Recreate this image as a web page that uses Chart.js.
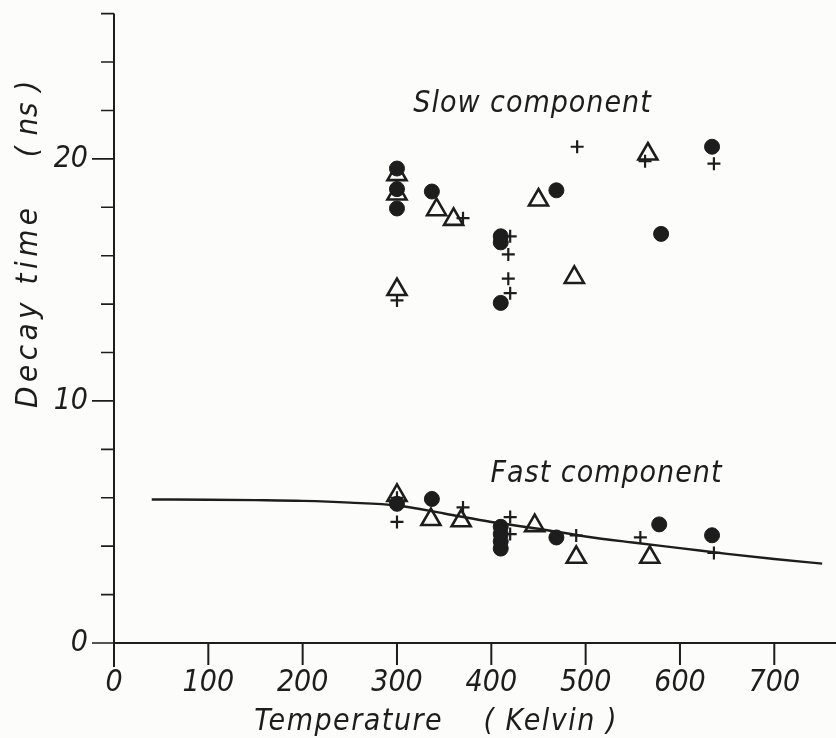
<!DOCTYPE html>
<html>
<head>
<meta charset="utf-8">
<title>Decay time vs temperature</title>
<script src="https://cdn.jsdelivr.net/npm/chart.js@4.4.1/dist/chart.umd.min.js"></script>
<style>
  html, body { margin: 0; padding: 0; background: #fcfcfa; }
  #wrap { width: 836px; height: 738px; }
</style>
</head>
<body>
<div id="wrap"><canvas id="chart" width="836" height="738"></canvas></div>
<script>
// [temperature K, decay time ns]
const slowCircles = [[300, 19.6], [300, 18.75], [300, 17.95], [337, 18.65], [410, 16.8], [410, 16.55],
  [410, 14.05], [469, 18.7], [580, 16.9], [634, 20.5]];
const slowTriangles = [[300, 19.35], [300, 18.55], [300, 14.6], [342, 17.9], [360, 17.5], [450, 18.3],
  [488, 15.1], [566, 20.2]];
const slowCrosses = [[300, 17.95], [300, 14.15], [370, 17.55], [420, 16.8], [418, 16.05], [418, 15.05],
  [420, 14.45], [491, 20.5], [563, 19.9], [636, 19.8]];

const fastCircles = [[300, 5.75], [337, 5.95], [410, 4.8], [410, 4.5], [410, 4.2], [410, 3.9],
  [469, 4.36], [578, 4.9], [634, 4.45]];
const fastTriangles = [[300, 6.1], [336, 5.1], [368, 5.05], [446, 4.85], [490, 3.54], [568, 3.54]];
const fastCrosses = [[300, 6.0], [300, 5.0], [370, 5.6], [420, 5.2], [420, 4.5], [490, 4.44],
  [558, 4.36], [636, 3.72]];

// fitted fast component
const fastCurve = [[40, 5.93], [100, 5.92], [150, 5.9], [200, 5.87], [250, 5.8], [300, 5.68],
  [350, 5.35], [400, 5.0], [450, 4.72], [500, 4.4], [550, 4.15], [600, 3.92], [650, 3.68],
  [700, 3.47], [751, 3.28]];

const xTickValues = [0, 100, 200, 300, 400, 500, 600, 700];
const yMajorTicks = [0, 10, 20];
const yMinorTicks = [2, 4, 6, 8, 12, 14, 16, 18, 22, 24, 26];

const xTitle = ['Temperature', '( Kelvin )'];
const yTitle = ['Decay time', '( ns )'];
const slowLabel = 'Slow component';
const fastLabel = 'Fast component';

const INK = '#1d1d1d';
const FONT_FAMILY = "'DejaVu Sans Condensed', 'Liberation Sans Narrow', 'DejaVu Sans', sans-serif";
const tickFont = { family: FONT_FAMILY, size: 30, style: 'italic' };

const toXY = pts => pts.map(p => ({ x: p[0], y: p[1] }));

function markerSet(data, style) {
  const base = { data: toXY(data), showLine: false };
  if (style === 'circle') {
    return { ...base, pointStyle: 'circle', pointRadius: 7.5, backgroundColor: INK, borderColor: INK, borderWidth: 1 };
  }
  if (style === 'triangle') {
    return { ...base, pointStyle: 'triangle', pointRadius: 11, backgroundColor: 'rgba(0,0,0,0)', borderColor: INK, borderWidth: 2.6 };
  }
  return { ...base, pointStyle: 'cross', pointRadius: 6.5, backgroundColor: INK, borderColor: INK, borderWidth: 2.2 };
}

function spacedText(ctx, text, x, y, spacing) {
  ctx.letterSpacing = spacing + 'px';
  // letter spacing adds trailing space after the last glyph, shift back by half of it
  ctx.fillText(text, x + spacing / 2, y);
  ctx.letterSpacing = '0px';
}

// axes, ticks and lettering drawn in the old hand-lettered way
const paperFrame = {
  id: 'paperFrame',
  beforeDraw(chart) {
    const ctx = chart.ctx;
    ctx.save();
    ctx.fillStyle = '#fcfcfa';
    ctx.fillRect(0, 0, chart.width, chart.height);
    ctx.restore();
  },
  beforeDatasetsDraw(chart) {
    const ctx = chart.ctx;
    const xs = chart.scales.x, ys = chart.scales.y;
    const x0 = xs.getPixelForValue(0);
    const y0 = ys.getPixelForValue(0);
    ctx.save();
    ctx.strokeStyle = INK;
    ctx.lineWidth = 2;
    ctx.lineCap = 'butt';
    ctx.beginPath();
    // vertical axis, running a little below zero
    ctx.moveTo(x0, ys.getPixelForValue(ys.max));
    ctx.lineTo(x0, y0 + 24);
    // horizontal axis
    ctx.moveTo(x0, y0);
    ctx.lineTo(chart.width, y0);
    xTickValues.forEach(v => {
      const px = xs.getPixelForValue(v);
      ctx.moveTo(px, y0);
      ctx.lineTo(px, y0 + 22);
    });
    ctx.stroke();
    ctx.lineWidth = 1.6;
    ctx.beginPath();
    yMajorTicks.forEach(v => {
      const py = ys.getPixelForValue(v);
      ctx.moveTo(x0 - 22, py);
      ctx.lineTo(x0, py);
    });
    yMinorTicks.forEach(v => {
      const py = ys.getPixelForValue(v);
      ctx.moveTo(x0 - 13, py);
      ctx.lineTo(x0, py);
    });
    ctx.stroke();
    ctx.restore();
  },
  afterDraw(chart) {
    const ctx = chart.ctx;
    ctx.save();
    ctx.fillStyle = INK;
    ctx.textAlign = 'center';
    ctx.textBaseline = 'alphabetic';
    // axis titles
    ctx.font = `italic 30px ${FONT_FAMILY}`;
    spacedText(ctx, xTitle[0], 348, 730, 1.5);
    spacedText(ctx, xTitle[1], 550, 730, 1.5);
    ctx.translate(37, 0);
    ctx.rotate(-Math.PI / 2);
    ctx.font = `italic 31px ${FONT_FAMILY}`;
    spacedText(ctx, yTitle[0], -308, 0, 4.5);
    spacedText(ctx, yTitle[1], -119, 0, 1);
    ctx.setTransform(1, 0, 0, 1, 0, 0);
    // series labels
    ctx.font = `italic 30px ${FONT_FAMILY}`;
    spacedText(ctx, slowLabel, 532, 112, 1);
    spacedText(ctx, fastLabel, 606, 482, 1);
    ctx.restore();
  }
};

new Chart(document.getElementById('chart'), {
  type: 'scatter',
  data: {
    datasets: [
      {
        type: 'line',
        data: toXY(fastCurve),
        borderColor: INK,
        borderWidth: 2.4,
        pointRadius: 0,
        fill: false,
        cubicInterpolationMode: 'monotone'
      },
      markerSet(slowTriangles, 'triangle'),
      markerSet(fastTriangles, 'triangle'),
      markerSet(slowCircles, 'circle'),
      markerSet(fastCircles, 'circle'),
      markerSet(slowCrosses, 'cross'),
      markerSet(fastCrosses, 'cross')
    ]
  },
  options: {
    responsive: false,
    devicePixelRatio: 1,
    animation: false,
    layout: { padding: { top: 11, right: 0, bottom: 0, left: 0 } },
    plugins: { legend: { display: false }, tooltip: { enabled: false } },
    scales: {
      x: {
        type: 'linear',
        min: 0,
        max: 751,
        afterFit(scale) {
          scale.height = 95;
          scale.paddingLeft = 0;
          scale.paddingRight = 0;
        },
        grid: { display: false, drawTicks: false },
        border: { display: false },
        ticks: {
          stepSize: 100,
          includeBounds: false,
          autoSkip: false,
          maxRotation: 0,
          padding: 22,
          color: INK,
          font: tickFont
        }
      },
      y: {
        type: 'linear',
        min: 0,
        max: 26,
        afterFit(scale) {
          // plot area spans the full axis length, labels sit well inside it
          scale.width = 114;
          scale.paddingTop = 0;
          scale.paddingBottom = 0;
        },
        grid: { display: false, drawTicks: false },
        border: { display: false },
        ticks: {
          stepSize: 10,
          includeBounds: false,
          autoSkip: false,
          padding: 26,
          color: INK,
          font: tickFont
        }
      }
    }
  },
  plugins: [paperFrame]
});
</script>
</body>
</html>
